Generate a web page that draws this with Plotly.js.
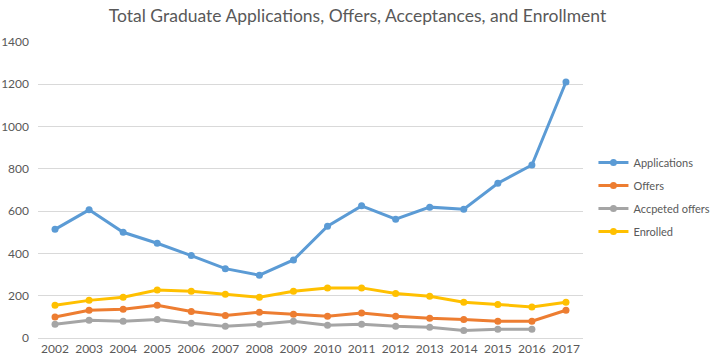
<!DOCTYPE html>
<html>
<head>
<meta charset="utf-8">
<script src="https://cdn.plot.ly/plotly-3.0.1.min.js"></script>
<style>html,body{margin:0;padding:0;background:#fff;}#chart{width:715px;height:363px;}</style>
</head>
<body>
<div id="chart"></div>
<script>
const years = ['2002','2003','2004','2005','2006','2007','2008','2009','2010','2011','2012','2013','2014','2015','2016','2017'];
const applications = [514,606,500,448,390,328,297,369,529,625,562,619,609,732,818,1211];
const offers = [99,131,136,155,125,107,122,112,103,118,103,93,88,79,79,131];
const acceptedOffers = [65,84,79,88,70,55,65,79,60,65,55,51,36,41,41,null];
const enrolled = [155,178,193,227,221,207,193,221,237,237,211,197,169,159,147,169];
const seriesNames = ['Applications','Offers','Accpeted offers','Enrolled'];
const colors = ['#5B9BD5','#ED7D31','#A5A5A5','#FFC000'];
const values = [applications, offers, acceptedOffers, enrolled];

const traces = values.map((v,i)=>({
  x: years, y: v, name: seriesNames[i], type:'scatter', mode:'lines+markers',
  line:{color:colors[i], width:3},
  marker:{color:colors[i], size:7},
  legendgroup:'g'+i,
  connectgaps:false
}));

const font = "Lato, 'Open Sans', sans-serif";
const layout = {
  width:715, height:363,
  margin:{l:38, r:132, t:42, b:25, autoexpand:false},
  paper_bgcolor:'#fff', plot_bgcolor:'#fff',
  font:{family:font, color:'#595959', size:12},
  title:{text:'Total Graduate Applications, Offers, Acceptances, and Enrollment', font:{family:font, size:17.5, color:'#595959'}, x:0.5, xanchor:'center', y:0.955, yanchor:'middle', yref:'container'},
  xaxis:{type:'category', range:[-0.5, years.length-0.5], showgrid:false, showline:true, linecolor:'#D9D9D9', ticks:'', tickfont:{size:12, color:'#595959'}, fixedrange:true},
  yaxis:{range:[0,1400], dtick:200, showgrid:true, gridcolor:'#D9D9D9', zeroline:false, showline:false, ticks:'', ticklabelstandoff:8, tickfont:{size:12,color:'#595959'}},
  showlegend:true,
  legend:{xref:'container', x:0.83, xanchor:'left', y:0.476, yanchor:'middle', font:{size:11, color:'#595959'}, tracegroupgap:4, itemwidth:30, bgcolor:'rgba(0,0,0,0)'}
};
Plotly.newPlot('chart', traces, layout, {displayModeBar:false, staticPlot:true});
</script>
</body>
</html>
